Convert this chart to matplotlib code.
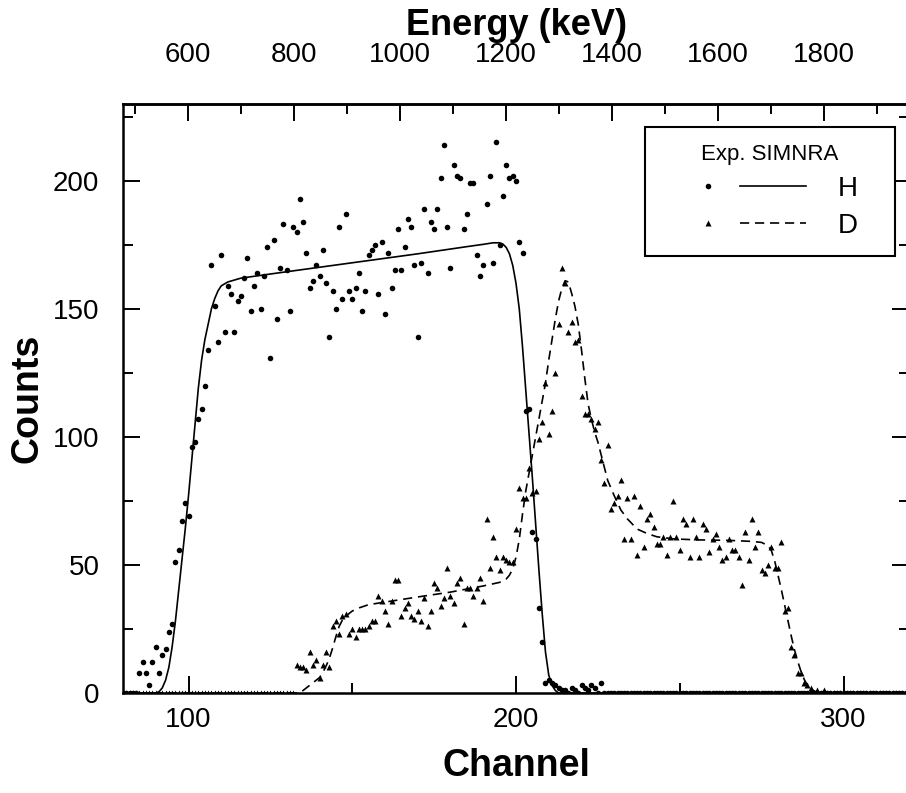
import matplotlib.pyplot as plt
import numpy as np
from matplotlib.legend_handler import HandlerBase
from matplotlib.lines import Line2D
from matplotlib.ticker import FixedLocator, MultipleLocator

plt.rcParams['font.family'] = ['Liberation Sans', 'DejaVu Sans']

# measured spectrum, one value per channel (80..320)
channels = np.arange(80, 321)

h_counts = ([0] * 5 + [
    8, 12, 8, 3, 12, 18, 8, 15, 17, 24,
    27, 51, 56, 67, 74, 69, 96, 98, 107, 111,
    120, 134, 167, 151, 137, 171, 141, 159, 156, 141,
    153, 155, 162, 170, 149, 159, 164, 150, 163, 174,
    131, 177, 146, 166, 183, 165, 149, 182, 180, 193,
    184, 172, 158, 161, 167, 163, 173, 160, 139, 157,
    150, 182, 154, 187, 157, 154, 158, 164, 149, 157,
    171, 173, 175, 156, 176, 148, 172, 158, 165, 181,
    165, 174, 185, 182, 167, 139, 168, 189, 164, 184,
    181, 189, 201, 214, 182, 166, 206, 202, 201, 181,
    187, 199, 199, 171, 163, 167, 191, 202, 168, 215,
    175, 194, 206, 201, 202, 200, 176, 172, 110, 111,
    63, 60, 33, 20, 4, 5, 4, 3, 2, 1,
    1, 0, 2, 1, 0, 3, 2, 1, 3, 2,
    0, 4] + [0] * 94)

d_counts = ([0] * 53 + [
    11, 10, 10, 9, 16, 11, 13, 6, 11, 16,
    10, 26, 28, 23, 30, 31, 23, 25, 22, 25,
    25, 25, 26, 28, 28, 38, 36, 32, 27, 36,
    44, 44, 30, 33, 35, 30, 29, 32, 28, 37,
    26, 32, 43, 41, 34, 37, 49, 38, 35, 43,
    45, 27, 41, 41, 38, 41, 45, 36, 68, 49,
    61, 53, 48, 53, 52, 51, 51, 64, 80, 76,
    76, 88, 78, 79, 99, 106, 121, 101, 110, 125,
    144, 166, 160, 141, 145, 137, 138, 116, 109, 109,
    107, 103, 106, 91, 82, 97, 72, 74, 77, 83,
    60, 76, 60, 77, 54, 73, 57, 68, 70, 65,
    58, 58, 61, 54, 61, 75, 61, 56, 68, 66,
    53, 68, 61, 53, 66, 64, 55, 60, 62, 57,
    52, 53, 60, 56, 56, 53, 42, 63, 52, 68,
    57, 63, 48, 47, 50, 57, 49, 49, 59, 32,
    33, 18, 15, 8, 8, 4, 3, 2, 0, 1,
    0, 1] + [0] * 26)

# SIMNRA simulation
sim_h_ch = [80, 90, 91, 92, 93, 94, 95, 96, 97, 98, 99, 100, 101, 102, 103,
            104, 105, 106, 107, 108, 109, 110, 112, 116, 130, 150, 170, 185,
            190, 193, 195, 196, 197, 198, 199, 200, 201, 202, 203, 204, 205,
            206, 207, 208, 209, 210, 211, 212, 213, 320]
sim_h = [0, 0, 0.5, 2, 5, 10, 18, 28, 40, 52, 64, 77, 91, 105, 119,
         130, 138, 144, 150, 154, 157, 159, 160.5, 162, 164.5, 168, 171.5, 174.3,
         175.2, 175.8, 175.8, 175.3, 174, 171.5, 167, 160, 150, 135, 118, 101, 84,
         66, 48, 31, 16, 7, 3, 1, 0, 0]

sim_d_ch = [80, 134, 135, 136, 137, 138, 139, 140, 141, 142, 143, 144, 145,
            146, 147, 148, 150, 152, 155, 160, 170, 180, 190, 195, 197,
            198, 199, 200, 201, 202, 203, 204, 205, 206, 207, 208, 209, 210,
            211, 212, 213, 214, 215, 216, 217, 218, 219, 220, 221, 222, 223,
            224, 225, 226, 227, 228, 230, 232, 234, 237, 240, 243, 248, 255,
            265, 272, 275, 277, 278, 279, 280, 281, 282, 283, 284, 285, 286,
            287, 288, 289, 290, 291, 292, 293, 320]
sim_d = [0, 0, 1, 2, 3, 4, 5, 6, 8, 10.5, 13.5, 17.5, 22,
         26, 28.5, 30, 32, 33.2, 34.5, 35.5, 37.5, 39.4, 41.8, 43.2, 44.5,
         46, 48.5, 53, 60, 70, 79, 86, 93, 100, 107, 114, 121, 130,
         138, 146, 153, 158, 161, 160.5, 156, 151, 144, 134, 123, 113, 107,
         102, 98, 93, 88, 83, 77, 71.5, 68, 64, 62.3, 61, 60.2, 59.8,
         59.6, 59.2, 58.8, 57.5, 55.5, 51.5, 46, 40.5, 34.5, 28.5, 22.5, 17, 12.5,
         8.5, 5.3, 3, 1.7, 0.8, 0.3, 0, 0]

# channel -> energy calibration (keV)
e_gain = 6.18
e_offset = -17.3
e_major = [600, 800, 1000, 1200, 1400, 1600, 1800]
e_minor = [500, 700, 900, 1100, 1300, 1500, 1700, 1900]


class KeyHandler(HandlerBase):
    """marker on the left, line segment on the right of one legend key"""

    def create_artists(self, legend, orig_handle, xdescent, ydescent,
                       width, height, fontsize, trans):
        mark, line = orig_handle
        y = height / 2 - ydescent
        m = Line2D([0.32 * width - xdescent], [y])
        m.update_from(mark)
        m.set_transform(trans)
        seg = Line2D([0.54 * width - xdescent, width - xdescent], [y, y])
        seg.update_from(line)
        seg.set_transform(trans)
        return [m, seg]


fig = plt.figure(figsize=(9.06, 7.93), dpi=100)
ax = fig.add_axes([123/906, 100/793, 786/906, 589/793])

dash = (0, (5.5, 3.5))
ax.plot(channels, h_counts, 'o', ms=4, color='k', mec='none')
ax.plot(channels, d_counts, '^', ms=5, color='k', mec='none')
ax.plot(sim_h_ch, sim_h, '-', color='k', lw=1.2)
ax.plot(sim_d_ch, sim_d, linestyle=dash, color='k', lw=1.2)

ax.set_xlim(80, 320)
ax.set_ylim(0, 230)
ax.xaxis.set_major_locator(MultipleLocator(100))
ax.xaxis.set_minor_locator(MultipleLocator(50))
ax.yaxis.set_major_locator(MultipleLocator(50))
ax.yaxis.set_minor_locator(MultipleLocator(25))
ax.tick_params(which='both', direction='in', right=True, top=False,
               labelsize=20, width=1.4)
ax.tick_params(axis='x', pad=10)
ax.tick_params(axis='y', pad=17)
ax.tick_params(which='major', length=12)
ax.tick_params(which='minor', length=7)
for s in ax.spines.values():
    s.set_linewidth(1.8)

ax.set_xlabel('Channel', fontsize=27, fontweight='bold', labelpad=11)
ax.set_ylabel('Counts', fontsize=27, fontweight='bold', labelpad=5)

top = ax.secondary_xaxis('top', functions=(lambda c: e_gain*c + e_offset,
                                           lambda e: (e - e_offset)/e_gain))
top.xaxis.set_major_locator(FixedLocator(e_major))
top.xaxis.set_minor_locator(FixedLocator(e_minor))
top.tick_params(which='both', direction='in', labelsize=20, width=1.4, pad=26)
top.tick_params(which='major', length=12)
top.tick_params(which='minor', length=7)
top.spines['top'].set_linewidth(1.8)
top.set_xlabel('Energy (keV)', fontsize=26, fontweight='bold', labelpad=5)

h_dot = Line2D([], [], marker='o', ms=4, color='k', mec='none', ls='none')
h_line = Line2D([], [], color='k', lw=1.2)
d_tri = Line2D([], [], marker='^', ms=5, color='k', mec='none', ls='none')
d_line = Line2D([], [], color='k', lw=1.2, ls=dash)
leg = ax.legend([(h_dot, h_line), (d_tri, d_line)], ['H', 'D'],
                handler_map={tuple: KeyHandler()},
                title='Exp. SIMNRA', title_fontsize=16, fontsize=20,
                loc='upper left', bbox_to_anchor=(0.664, 0.5, 0.318, 0.461),
                mode='expand', borderaxespad=0,
                handlelength=5.18, handletextpad=1.15, borderpad=0.62,
                labelspacing=0.3, handleheight=1.05, alignment='center',
                fancybox=False, framealpha=1, edgecolor='k')
leg.get_frame().set_linewidth(1.5)

fig.savefig('out.png', dpi=100)
